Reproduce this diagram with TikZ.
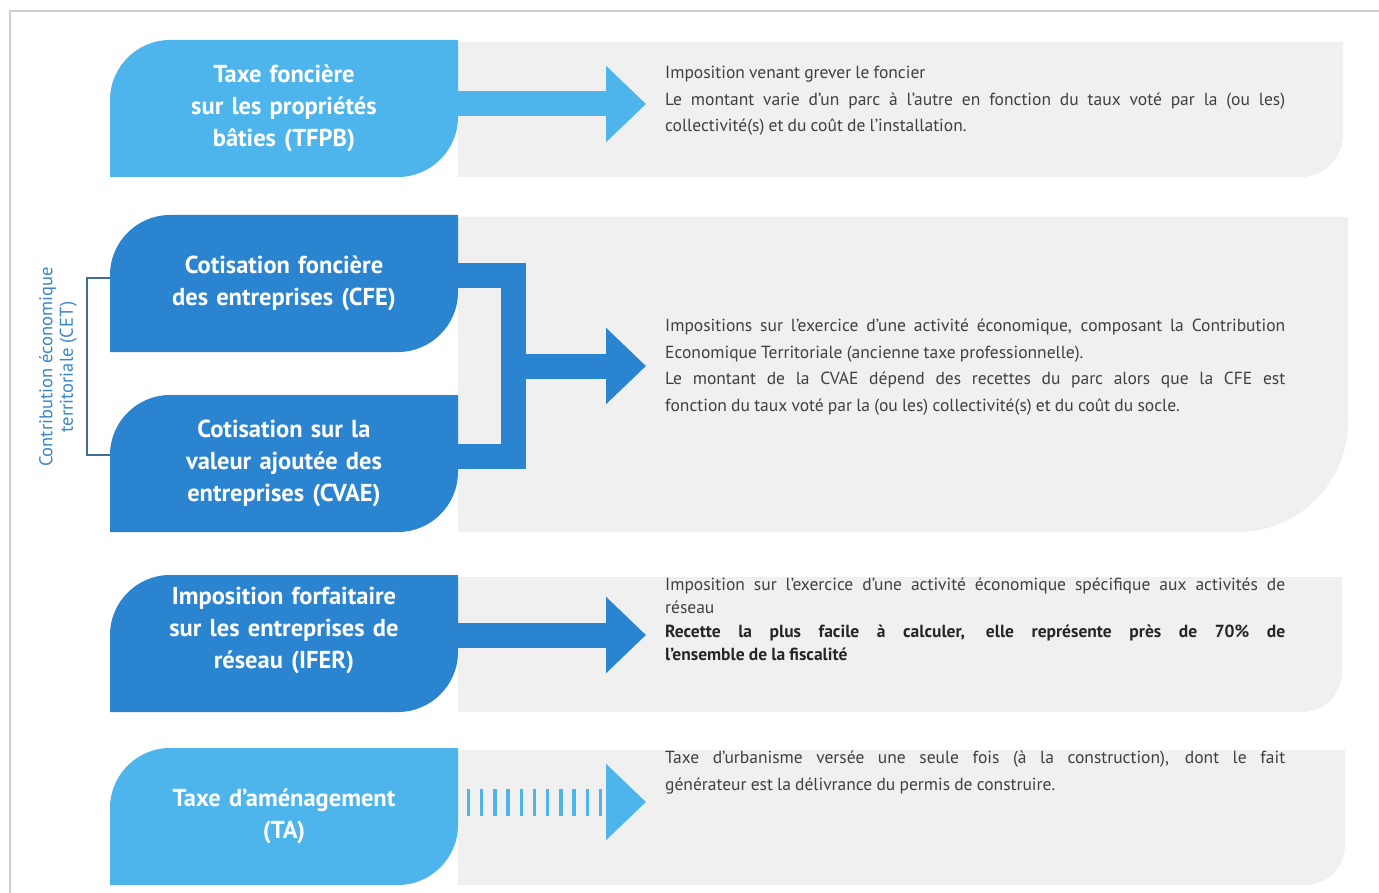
\documentclass[tikz,border=0pt]{standalone}
\usepackage{fontspec}
\setmainfont{PT Sans}
\usetikzlibrary{arrows.meta,calc}

\definecolor{lightblue}{RGB}{77,181,236}
\definecolor{darkblue}{RGB}{43,132,207}
\definecolor{panelgray}{RGB}{240,240,240}
\definecolor{framegray}{RGB}{208,208,208}
\definecolor{textgray}{RGB}{64,64,64}
\definecolor{cetblue}{RGB}{58,134,200}
\definecolor{bracketblue}{RGB}{63,110,150}

\newcommand\titlefont{\fontsize{24.5}{32}\selectfont\bfseries}
\newcommand\descfont{\fontsize{17.5}{26.5}\selectfont\spaceskip=.24em plus .5em minus .1em\relax}

% grey panel with a rounded lower right corner: x1, y1, x2, y2, radius
\newcommand\panelshape[5]{%
  \fill[panelgray] ({#1},{#2}) -- ({#3},{#2}) -- ({#3},{#4-#5})
    .. controls ({#3},{#4-0.448*#5}) and ({#3-0.448*#5},{#4}) .. ({#3-#5},{#4})
    -- ({#1},{#4}) -- cycle;}

\tikzset{
  taxbox/.style={rectangle, fill=white, minimum width=348pt, minimum height=137pt,
    inner sep=0pt, text width=340pt, align=center, text=white, font=\titlefont,
    path picture={
      \fill[#1]
        (path picture bounding box.south west)
        -- ([yshift=-60pt]path picture bounding box.north west)
        .. controls ([yshift=-27pt]path picture bounding box.north west)
               and ([xshift=27pt]path picture bounding box.north west)
        .. ([xshift=60pt]path picture bounding box.north west)
        -- (path picture bounding box.north east)
        -- ([yshift=60pt]path picture bounding box.south east)
        .. controls ([yshift=27pt]path picture bounding box.south east)
               and ([xshift=-27pt]path picture bounding box.south east)
        .. ([xshift=-60pt]path picture bounding box.south east)
        -- cycle;
    }},
  desc/.style={anchor=north west, inner sep=0pt, text width=620pt, align=justify,
    text=textgray, font=\descfont},
  band/.style={line width=25pt, draw=#1, line join=miter},
  blockarrow/.style={line width=25pt, draw=#1,
    -{Triangle[length=40pt, width=74pt, fill=#1]}},
  tickarrow/.style={line width=27pt, draw=#1, dash pattern=on 3.5pt off 9.7pt,
    dash phase=4.7pt, -{Triangle[length=40pt, width=74pt, fill=#1]}},
  bracketline/.style={draw=bracketblue, line width=1.4pt},
}

\begin{document}
\begin{tikzpicture}[x=1pt, y=-1pt]
\useasboundingbox (0,0) rectangle (1379,893);

% frame
\draw[framegray, line width=1.5pt] (10,893) -- (10,11) -- (1379,11);

% grey panels
\panelshape{458}{42}{1343}{177}{42}
\panelshape{458}{217}{1348}{532}{110}
\panelshape{458}{577}{1342}{712}{40}
\panelshape{458}{750}{1345}{885}{40}

% tax boxes
\node[taxbox=lightblue] (tfpb) at (284,108.5) {Taxe foncière\\sur les propriétés\\bâties (TFPB)};
\node[taxbox=darkblue] (cfe) at (284,283.5) {Cotisation foncière\\des entreprises (CFE)};
\node[taxbox=darkblue] (cvae) at (284,463.5) {Cotisation sur la\\valeur ajoutée des\\entreprises (CVAE)};
\node[taxbox=darkblue] (ifer) at (284,643.5) {Imposition forfaitaire\\sur les entreprises de\\réseau (IFER)\\\mbox{}};
\node[taxbox=lightblue] (ta) at (284,816.5) {Taxe d’aménagement\\(TA)};

% CET label and bracket
\node[rotate=90, align=center, text=cetblue, inner sep=0pt,
      font=\fontsize{18.5}{20.5}\selectfont] (cet) at (58,367)
  {Contribution économique\\territoriale (CET)};
\coordinate (b1) at (87,278);
\coordinate (b2) at (87,455);
\draw[bracketline] (cfe.west |- b1) -- (b1) -- (b2) -- (cvae.west |- b2);

% descriptions
\node[desc] (d1) at (665,66) {Imposition venant grever le foncier\\
  Le montant varie d’un parc à l’autre en fonction du taux voté par la (ou les)\linebreak
  collectivité(s) et du coût de l’installation.};
\node[desc] (d2) at (665,319) {Impositions sur l’exercice d’une activité économique, composant la Contribution\linebreak
  Economique Territoriale (ancienne taxe professionnelle).\\
  Le montant de la CVAE dépend des recettes du parc alors que la CFE est\linebreak
  fonction du taux voté par la (ou les) collectivité(s) et du coût du socle.};
\node[desc, font=\descfont\fontsize{17.5}{22.5}\selectfont] (d3) at (665,578)
  {Imposition sur l’exercice d’une activité économique spécifique aux activités de\linebreak
  réseau\\[2pt]
  \textbf{\color{black!85}Recette la plus facile à calculer, elle représente près de 70\% de\linebreak
  l’ensemble de la fiscalité}};
\node[desc] (d4) at (665,751) {Taxe d’urbanisme versée une seule fois (à la construction), dont le fait\linebreak
  générateur est la délivrance du permis de construire.};

% connectors
\coordinate (a1) at (646,104);
\coordinate (top) at (513,276);
\coordinate (bot) at (513,456);
\coordinate (j) at (513,366);
\coordinate (a2) at (646,366);
\coordinate (a3) at (646,635);
\coordinate (a4) at (646,802);

\draw[blockarrow=lightblue] (tfpb.east |- a1) -- (a1);
\draw[band=darkblue] (cfe.east |- top) -- (top) -- (bot) -- (cvae.east |- bot);
\draw[blockarrow=darkblue] (j) -- (a2);
\draw[blockarrow=darkblue] (ifer.east |- a3) -- (a3);
\draw[tickarrow=lightblue] (ta.east |- a4) -- (a4);
\end{tikzpicture}
\end{document}
